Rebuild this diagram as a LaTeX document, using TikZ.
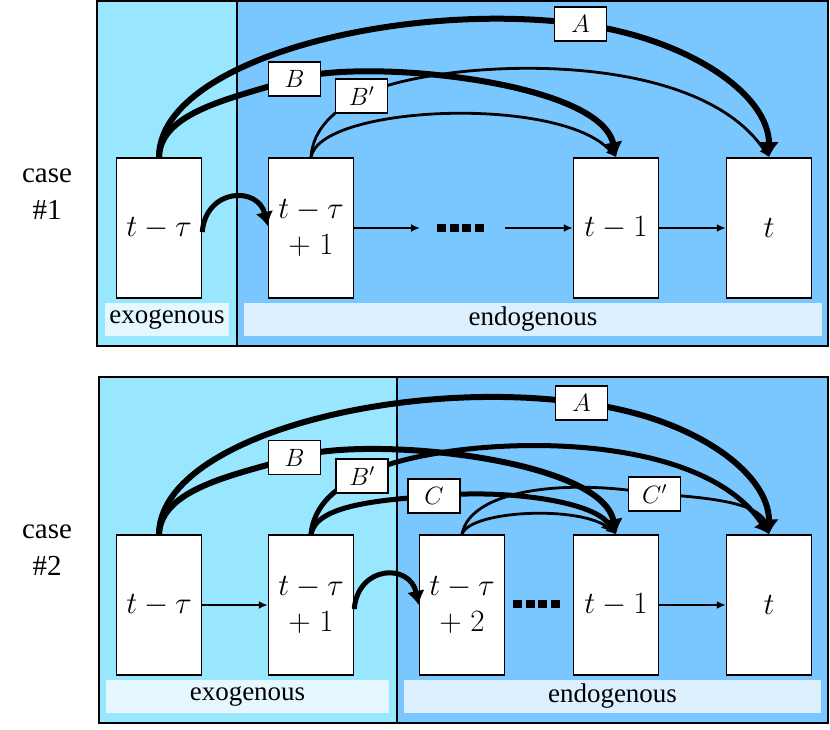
\RequirePackage{fix-cm}
\documentclass[tikz,border=0pt]{standalone}
\usepackage{fontspec}
\setmainfont{Liberation Serif}
\usepackage{amsmath}
\usetikzlibrary{arrows.meta}

\definecolor{exoblue}{RGB}{153,230,255}
\definecolor{endoblue}{RGB}{122,199,255}
\definecolor{exostrip}{RGB}{230,248,255}
\definecolor{endostrip}{RGB}{221,240,255}

\tikzset{
	region/.style={draw=black, line width=1.3pt},
	strip/.style={minimum height=33pt, inner sep=0pt, font=\fontsize{27}{30}\selectfont},
	stepbox/.style={draw, fill=white, line width=1.5pt, minimum width=85pt, minimum height=140pt,
		inner sep=0pt, align=center, font=\fontsize{31}{36}\selectfont},
	tag/.style={draw, fill=white, line width=1.3pt, minimum width=52pt, minimum height=34pt,
		inner sep=0pt, font=\fontsize{25}{28}\selectfont},
	casetext/.style={align=center, font=\fontsize{29}{37}\selectfont},
	heavy/.style={-{Latex[length=15pt,width=20pt]}, line width=6pt},
	medium/.style={-{Latex[length=14pt,width=18pt]}, line width=5pt},
	light/.style={-{Latex[length=10pt,width=9pt]}, line width=2.8pt},
	flow/.style={-{Latex[length=9pt,width=8pt]}, line width=2.5pt},
	dots/.style={line width=8pt, dash pattern=on 9pt off 3.6pt}
}

\begin{document}
\begin{tikzpicture}[x=1pt,y=-1pt]
	\useasboundingbox (0,0) rectangle (830,730);

	% Case 1: regions
	\draw[region, fill=exoblue] (97,1) rectangle (237,346);
	\draw[region, fill=endoblue] (237,1) rectangle (828,346);
	\node[strip, fill=exostrip, minimum width=124pt] (exo1) at (167,319.5) {exogenous};
	\node[strip, fill=endostrip, minimum width=578pt] (endo1) at (533,319.5) {endogenous};
	\node[casetext] (case1) at (47,194) {case\\\#1};

	% Case 1: steps
	\node[stepbox] (a0) at (159,228) {$t-\tau$};
	\node[stepbox] (a1) at (311,228) {$t-\tau$\\$+\;1$};
	\node[stepbox] (a8) at (616,228) {$t-1$};
	\node[stepbox] (a9) at (769,228) {$t$};

	\coordinate (d1s) at (420,228);
	\coordinate (d1a) at (437,228);
	\coordinate (d1b) at (484,228);
	\coordinate (d1e) at (505,228);
	\coordinate (kA1) at (580.5,24);
	\coordinate (kB1) at (294.5,79);
	\coordinate (kP1) at (361.5,96);

	% Case 1: links
	\draw[flow] (a1.east) -- (d1s);
	\draw[dots] (d1a) -- (d1b);
	\draw[flow] (d1e) -- (a8.west);
	\draw[flow] (a8.east) -- (a9.west);
	\draw[medium] ([yshift=-4pt]a0.east) .. controls (206,188) and (258,186) .. ([yshift=2pt]a1.west);
	\draw[light] (a1.north) .. controls (320,105) and (560,95) .. (a8.north);
	\draw[light] (a1.north) .. controls (313,128) and (335,110) .. (kP1)
		.. controls (420,62) and (690,40) .. (a9.north);
	\draw[heavy] (a0.north) .. controls (160,112) and (232,98) .. (kB1)
		.. controls (360,58) and (600,80) .. (a8.north);
	\draw[heavy] (a0.north) .. controls (159,60) and (400,0) .. (kA1)
		.. controls (690,39) and (769,95) .. (a9.north);

	\node[tag] (lA1) at (kA1) {$A$};
	\node[tag] (lB1) at (kB1) {$B$};
	\node[tag] (lP1) at (kP1) {$B'$};

	% Case 2: regions
	\draw[region, fill=exoblue] (99,377) rectangle (397,723);
	\draw[region, fill=endoblue] (397,377) rectangle (828,723);
	\node[strip, fill=exostrip, minimum width=283pt] (exo2) at (247.5,696.5) {exogenous};
	\node[strip, fill=endostrip, minimum width=417pt] (endo2) at (612.5,696.5) {endogenous};
	\node[casetext] (case2) at (47,550) {case\\\#2};

	% Case 2: steps
	\node[stepbox] (b0) at (159,605) {$t-\tau$};
	\node[stepbox] (b1) at (311,605) {$t-\tau$\\$+\;1$};
	\node[stepbox] (b2) at (462,605) {$t-\tau$\\$+\;2$};
	\node[stepbox] (b8) at (616,605) {$t-1$};
	\node[stepbox] (b9) at (769,605) {$t$};

	\coordinate (d2a) at (513,604);
	\coordinate (d2b) at (560,604);
	\coordinate (kA2) at (581.5,403);
	\coordinate (kB2) at (294.5,457.5);
	\coordinate (kP2) at (362,476);
	\coordinate (kC2) at (434,496);
	\coordinate (kQ2) at (654.5,494);

	% Case 2: links
	\draw[flow] (b0.east) -- (b1.west);
	\draw[dots] (d2a) -- (d2b);
	\draw[flow] (b8.east) -- (b9.west);
	\draw[medium] ([yshift=-4pt]b1.east) .. controls (358,565) and (410,563) .. (b2.west);
	\draw[light] (b2.north) .. controls (470,510) and (582,505) .. (b8.north);
	\draw[light] (b2.north) .. controls (470,490) and (565,478) .. (kQ2)
		.. controls (722,498) and (762,505) .. (b9.north);
	\draw[medium] (b1.north) .. controls (316,505) and (380,500) .. (kC2)
		.. controls (500,489) and (592,500) .. (b8.north);
	\draw[medium] (b1.north) .. controls (314,505) and (336,487) .. (kP2)
		.. controls (421,439) and (691,417) .. (b9.north);
	\draw[heavy] (b0.north) .. controls (161,489) and (233,475) .. (kB2)
		.. controls (361,435) and (601,457) .. (b8.north);
	\draw[heavy] (b0.north) .. controls (160,437) and (401,377) .. (kA2)
		.. controls (691,416) and (769,472) .. (b9.north);

	\node[tag] (lA2) at (kA2) {$A$};
	\node[tag] (lB2) at (kB2) {$B$};
	\node[tag] (lP2) at (kP2) {$B'$};
	\node[tag] (lC2) at (kC2) {$C$};
	\node[tag] (lQ2) at (kQ2) {$C'$};
\end{tikzpicture}
\end{document}
